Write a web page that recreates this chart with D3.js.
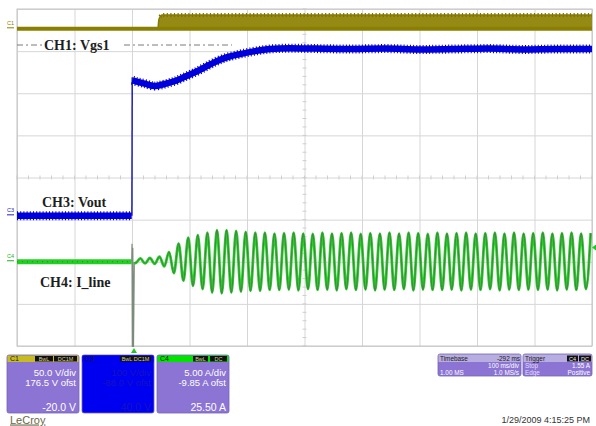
<!DOCTYPE html>
<html>
<head>
<meta charset="utf-8">
<script src="https://cdn.jsdelivr.net/npm/d3@7"></script>
<style>
  body { margin: 0; background: #fff; }
</style>
</head>
<body>
<script>
/*** Scope settings ***/
var c1VperDiv = 50, c1Offset = 176.5;     // C1: 50.0 V/div, 176.5 V ofst
var c4AperDiv = 5,  c4Offset = -9.85;     // C4: 5.00 A/div, -9.85 A ofst
var c4TrigLevel = 1.55;                   // Trigger: Stop 1.55 A
var timeTicks = [0, 100, 200, 300, 400, 500, 600, 700, 800, 900, 1000];  // ms, 100 ms/div
var divTicks = [-4, -3, -2, -1, 0, 1, 2, 3, 4];

/*** C1 Vgs1 (V): low, then PWM band after soft start ***/
var c1Time = [0, 245, 246.5, 249, 252, 1000];
var c1Low  = [0, 0, 0, 0, 0, 0];
var c1High = [0, 0, 10, 14.5, 16.4, 16.4];

/*** C3 Vout (divisions) ***/
var c3PreTime  = [0, 199.5];
var c3PreDiv   = [-0.91, -0.91];
var c3PostTime = [201, 205, 222, 240, 257, 275, 292, 310, 327, 344, 362, 388, 414, 440, 475,
                  520, 580, 640, 700, 760, 820, 880, 940, 1000];
var c3PostDiv  = [2.31, 2.29, 2.23, 2.17, 2.22, 2.29, 2.39, 2.50, 2.62, 2.74, 2.84, 2.93, 3.00, 3.05, 3.07,
                  3.06, 3.05, 3.06, 3.04, 3.05, 3.06, 3.04, 3.05, 3.05];

/*** C4 I_line (A) ***/
var c4PreTime = [0, 199.5];
var c4PreAmp  = [-0.15, -0.15];
var c4SpikeTime = [199.5, 200, 200.6, 201.4, 202.5, 204];
var c4SpikeAmp  = [-0.15, 2.0, -12, 1.5, -11, -0.2];
// line current extremes, one every half cycle of 60 Hz
var c4FirstExt = 206.1, c4HalfPeriod = 8.333;
var c4Extremes = [
  -0.3, 0.25, -0.35, 0.3, -0.4, 0.45, -0.7, 1.0, -1.5, 2.0,
  -2.4, 2.7, -3.0, 3.0, -3.4, 3.3, -3.8, 3.6, -3.9, 3.6,
  -3.8, 3.5, -3.7, 3.4, -3.6, 3.3, -3.6, 3.3, -3.5, 3.2,
  -3.5, 3.25, -3.45, 3.3, -3.55, 3.2, -3.4, 3.15, -3.5, 3.3,
  -3.45, 3.2, -3.55, 3.25, -3.4, 3.3, -3.5, 3.15, -3.45, 3.25,
  -3.55, 3.2, -3.45, 3.3, -3.5, 3.2, -3.4, 3.3, -3.55, 3.25,
  -3.45, 3.15, -3.5, 3.3, -3.5, 3.2, -3.45, 3.25, -3.55, 3.3,
  -3.45, 3.2, -3.5, 3.25, -3.4, 3.3, -3.55, 3.2, -3.45, 3.3,
  -3.5, 3.2, -3.45, 3.25, -3.5, 3.3, -3.45, 3.2, -3.55, 3.25,
  -3.45, 3.3, -3.5, 3.2, -3.4, 3.25
];

/*** Text on the screen ***/
var traceLabels = ["CH1: Vgs1", "CH3: Vout", "CH4: I_line"];
var c1Box = { title: "C1", badges: ["BwL", "DC1M"], lines: ["50.0 V/div", "176.5 V ofst"], bottom: "-20.0 V" };
var c3Box = { title: "C3", badges: ["BwL DC1M"], lines: ["100 V/div", "-88.0 V ofst"], bottom: "40.0 V" };
var c4Box = { title: "C4", badges: ["BwL", "DC"], lines: ["5.00 A/div", "-9.85 A ofst"], bottom: "25.50 A" };
var timebaseText = ["Timebase", "-292 ms", "100 ms/div", "1.00 MS", "1.0 MS/s"];
var triggerText  = ["Trigger", "C4", "DC", "Stop", "1.55 A", "Edge", "Positive"];
var dateText = "1/29/2009 4:15:25 PM";

/*** Layout ***/
var W = 596, H = 426;
var plot = { left: 17, right: 592, top: 9, bottom: 346 };
var serif = "'Liberation Serif', 'Times New Roman', serif";
var sans = "'Liberation Sans', Arial, sans-serif";

var svg = d3.select("body").append("svg")
            .attr("width", W)
            .attr("height", H)
            .style("font-family", sans);

/*** Scales ***/
var x = d3.scaleLinear().domain([0, 1000]).range([plot.left, plot.right]);
var yDiv = d3.scaleLinear().domain([-4, 4]).range([plot.bottom, plot.top]);
var yC1 = function(v) { return yDiv((v + c1Offset) / c1VperDiv); };
var yC4 = function(a) { return yDiv((a + c4Offset) / c4AperDiv); };

/*** Grid ***/
var gridG = svg.append("g");
gridG.append("g")
     .attr("transform", "translate(0," + plot.bottom + ")")
     .call(d3.axisBottom(x).tickValues(timeTicks).tickSize(-(plot.bottom - plot.top)).tickFormat(""));
gridG.append("g")
     .attr("transform", "translate(" + plot.left + ",0)")
     .call(d3.axisLeft(yDiv).tickValues(divTicks).tickSize(-(plot.right - plot.left)).tickFormat(""));
gridG.selectAll(".domain").style("display", "none");
gridG.selectAll(".tick line").attr("stroke", "#d6d6d6").attr("stroke-width", 1);

// minor ticks on the centre cross
gridG.selectAll(".mx").data(d3.range(0, 1001, 20)).enter().append("line")
     .attr("x1", function(d) { return x(d); }).attr("x2", function(d) { return x(d); })
     .attr("y1", yDiv(0) - 2).attr("y2", yDiv(0) + 2)
     .attr("stroke", "#cfcfcf");
gridG.selectAll(".my").data(d3.range(-4, 4.01, 0.2)).enter().append("line")
     .attr("y1", function(d) { return yDiv(d); }).attr("y2", function(d) { return yDiv(d); })
     .attr("x1", x(500) - 2).attr("x2", x(500) + 2)
     .attr("stroke", "#cfcfcf");
gridG.append("rect")
     .attr("x", plot.left).attr("y", plot.top)
     .attr("width", plot.right - plot.left).attr("height", plot.bottom - plot.top)
     .attr("fill", "none").attr("stroke", "#c4c4c4");

/*** Clip ***/
svg.append("clipPath").attr("id", "clip")
   .append("rect")
   .attr("x", plot.left).attr("y", plot.top)
   .attr("width", plot.right - plot.left).attr("height", plot.bottom - plot.top + 1);
var traces = svg.append("g").attr("clip-path", "url(#clip)");

/*** CH1 annotation line ***/
traces.append("line")
      .attr("x1", plot.left).attr("x2", 42).attr("y1", 45).attr("y2", 45)
      .attr("stroke", "#7a7a7a").attr("stroke-dasharray", "6,3,2,3");
traces.append("line")
      .attr("x1", 124).attr("x2", 232).attr("y1", 45).attr("y2", 45)
      .attr("stroke", "#7a7a7a").attr("stroke-dasharray", "6,3,2,3");

/*** C1 trace ***/
var c1Data = c1Time.map(function(t, i) { return { t: t, lo: c1Low[i], hi: c1High[i] }; });
var c1Area = d3.area()
               .curve(d3.curveMonotoneX)
               .x(function(d) { return x(d.t); })
               .y0(function(d) { return yC1(d.lo); })
               .y1(function(d) { return yC1(d.hi); });
var c1Top = d3.line().curve(d3.curveMonotoneX)
              .x(function(d) { return x(d.t); })
              .y(function(d) { return yC1(d.hi); });
var c1Bot = d3.line()
              .x(function(d) { return x(d.t); })
              .y(function(d) { return yC1(d.lo); });
traces.append("path").datum(c1Data)
      .attr("d", c1Area).attr("fill", "#958b14");
traces.append("path").datum(c1Data.filter(function(d) { return d.t >= 249; }))
      .attr("d", c1Top).attr("fill", "none")
      .attr("stroke", "#7b7200").attr("stroke-width", 4).attr("stroke-dasharray", "1.2,2.4");
traces.append("path").datum(c1Data)
      .attr("d", c1Top).attr("fill", "none").attr("stroke", "#857b00").attr("stroke-width", 1.5);
traces.append("path").datum(c1Data)
      .attr("d", c1Bot).attr("fill", "none").attr("stroke", "#8a7f00").attr("stroke-width", 4);

/*** C3 trace ***/
var lineDiv = d3.line().curve(d3.curveMonotoneX)
                .x(function(d) { return x(d[0]); })
                .y(function(d) { return yDiv(d[1]); });
var c3Pre  = c3PreTime.map(function(t, i) { return [t, c3PreDiv[i]]; });
var c3Post = c3PostTime.map(function(t, i) { return [t, c3PostDiv[i]]; });
traces.append("line")
      .attr("x1", x(199.8)).attr("x2", x(200.4))
      .attr("y1", yDiv(c3PreDiv[1])).attr("y2", yDiv(c3PostDiv[0]) - 3)
      .attr("stroke", "#2020b0").attr("stroke-width", 1.5);
[c3Pre, c3Post].forEach(function(seg) {
  traces.append("path").datum(seg).attr("d", lineDiv).attr("fill", "none")
        .attr("stroke", "#00009a").attr("stroke-width", 9).attr("stroke-dasharray", "1,2.2");
  traces.append("path").datum(seg).attr("d", lineDiv).attr("fill", "none")
        .attr("stroke", "#0000dc").attr("stroke-width", 6.5);
});

/*** C4 trace ***/
var lineC4 = d3.line()
               .x(function(d) { return x(d[0]); })
               .y(function(d) { return yC4(d[1]); });
var c4Pre = c4PreTime.map(function(t, i) { return [t, c4PreAmp[i]]; });
var c4Spike = c4SpikeTime.map(function(t, i) { return [t, c4SpikeAmp[i]]; });
var c4Wave = [[204, -0.2]].concat(c4Extremes.map(function(v, i) { return [c4FirstExt + i * c4HalfPeriod, v]; }));
traces.append("path").datum(c4Pre).attr("d", lineC4).attr("fill", "none")
      .attr("stroke", "#22cf22").attr("stroke-width", 5);
traces.append("path").datum(c4Pre).attr("d", lineC4).attr("fill", "none")
      .attr("stroke", "#3c7a3c").attr("stroke-width", 1).attr("stroke-dasharray", "1,4");
traces.append("path").datum(c4Spike).attr("d", lineC4).attr("fill", "none")
      .attr("stroke", "#7c8c7c").attr("stroke-width", 1.2);
traces.append("path").datum(c4Wave).attr("d", lineC4.curve(d3.curveMonotoneX)).attr("fill", "none")
      .attr("stroke", "#26d026").attr("stroke-width", 2.8);
traces.append("path").datum(c4Wave).attr("d", lineC4).attr("fill", "none")
      .attr("stroke", "#4d6e4d").attr("stroke-width", 0.8);

/*** Trace labels ***/
var lbl = svg.append("g").style("font-family", serif).style("font-weight", "bold")
             .style("font-size", "14px").attr("fill", "#1e1e1e");
lbl.append("text").attr("x", 44).attr("y", 50).text(traceLabels[0]);
lbl.append("text").attr("x", 42).attr("y", 207).text(traceLabels[1]);
lbl.append("text").attr("x", 40).attr("y", 287).text(traceLabels[2]);

/*** Channel markers on the left edge ***/
var markers = [
  { name: "C1", y: yC1(0), color: "#8a7f00" },
  { name: "C3", y: yDiv(c3PreDiv[0]), color: "#2020c0" },
  { name: "C4", y: yC4(c4PreAmp[0]), color: "#22b022" }
];
markers.forEach(function(m) {
  svg.append("text").attr("x", 7).attr("y", m.y - 4).attr("font-size", 5.5)
     .attr("fill", m.color).text(m.name);
  svg.append("line").attr("x1", 7).attr("x2", 14).attr("y1", m.y - 1).attr("y2", m.y - 1)
     .attr("stroke", m.color).attr("stroke-width", 1);
});

// trigger time marker and trigger level marker
svg.append("path")
   .attr("d", "M" + (x(200) + 2) + "," + 348 + " l-3,5 l6,0 z")
   .attr("fill", "#22c822");
svg.append("path")
   .attr("d", "M" + (plot.right) + "," + yC4(c4TrigLevel) + " l4,-3 l0,6 z")
   .attr("fill", "#22c822");

/*** Channel boxes ***/
var purple = "#8b74d4";
function channelBox(x0, info, headColor, badgeX, bodyColor, textColor) {
  var g = svg.append("g");
  var y0 = 355, w = 72, h = 58;
  g.append("rect").attr("x", x0).attr("y", y0).attr("width", w).attr("height", h)
   .attr("rx", 2).attr("fill", bodyColor).attr("stroke", "#7565b4").attr("stroke-width", 0.8);
  g.append("rect").attr("x", x0 + 0.5).attr("y", y0 + 0.5).attr("width", w - 1).attr("height", 6.5)
   .attr("fill", headColor);
  g.append("text").attr("x", x0 + 3).attr("y", y0 + 6.3).attr("font-size", 7)
   .attr("fill", "#1a1a1a").text(info.title);
  info.badges.forEach(function(b, i) {
    g.append("rect").attr("x", badgeX[i][0]).attr("y", y0 + 1).attr("width", badgeX[i][1] - badgeX[i][0])
     .attr("height", 5.5).attr("fill", "#111");
    g.append("text").attr("x", (badgeX[i][0] + badgeX[i][1]) / 2).attr("y", y0 + 5.8)
     .attr("text-anchor", "middle").attr("font-size", 5.5).attr("fill", "#d8d09a").text(b);
  });
  g.append("text").attr("x", x0 + w - 3).attr("y", 376).attr("text-anchor", "end")
   .attr("font-size", 9.5).attr("fill", textColor).text(info.lines[0]);
  g.append("text").attr("x", x0 + w - 3).attr("y", 386).attr("text-anchor", "end")
   .attr("font-size", 9.5).attr("fill", textColor).text(info.lines[1]);
  g.append("text").attr("x", x0 + w - 3).attr("y", 410.5).attr("text-anchor", "end")
   .attr("font-size", 10.5).attr("fill", textColor).text(info.bottom);
}
channelBox(7, c1Box, "#c6bc22", [[35, 53], [54, 77]], purple, "#ffffff");
channelBox(82, c3Box, "#0000f0", [[120, 151]], "#0000f0", "#1414c4");
channelBox(157, c4Box, "#00e400", [[193, 208], [210, 227]], purple, "#ffffff");

/*** Timebase box ***/
var fs = 6.4;
var tb = svg.append("g");
tb.append("rect").attr("x", 438).attr("y", 354).attr("width", 83).attr("height", 22)
  .attr("rx", 2).attr("fill", purple).attr("stroke", "#7565b4").attr("stroke-width", 0.8);
tb.append("rect").attr("x", 438.5).attr("y", 354.5).attr("width", 82).attr("height", 7.5)
  .attr("fill", "#b7addf");
tb.append("text").attr("x", 440).attr("y", 360.5).attr("font-size", fs).attr("fill", "#222").text(timebaseText[0]);
tb.append("text").attr("x", 520).attr("y", 360.5).attr("font-size", fs).attr("text-anchor", "end")
  .attr("fill", "#222").text(timebaseText[1]);
tb.append("text").attr("x", 519).attr("y", 367.6).attr("font-size", fs).attr("text-anchor", "end")
  .attr("fill", "#fff").text(timebaseText[2]);
tb.append("text").attr("x", 440).attr("y", 374.6).attr("font-size", fs).attr("fill", "#fff").text(timebaseText[3]);
tb.append("text").attr("x", 519).attr("y", 374.6).attr("font-size", fs).attr("text-anchor", "end")
  .attr("fill", "#fff").text(timebaseText[4]);

/*** Trigger box ***/
var tr = svg.append("g");
tr.append("rect").attr("x", 523).attr("y", 354).attr("width", 69).attr("height", 22)
  .attr("rx", 2).attr("fill", purple).attr("stroke", "#7565b4").attr("stroke-width", 0.8);
tr.append("rect").attr("x", 523.5).attr("y", 354.5).attr("width", 68).attr("height", 7.5)
  .attr("fill", "#b7addf");
tr.append("text").attr("x", 525).attr("y", 360.5).attr("font-size", fs).attr("fill", "#222").text(triggerText[0]);
[[567, 578, triggerText[1]], [579, 591, triggerText[2]]].forEach(function(b) {
  tr.append("rect").attr("x", b[0]).attr("y", 355.5).attr("width", b[1] - b[0]).attr("height", 6)
    .attr("fill", "#111");
  tr.append("text").attr("x", (b[0] + b[1]) / 2).attr("y", 360.6).attr("text-anchor", "middle")
    .attr("font-size", 5.5).attr("fill", "#eee").text(b[2]);
});
tr.append("text").attr("x", 525).attr("y", 367.6).attr("font-size", fs).attr("fill", "#e4ddff").text(triggerText[3]);
tr.append("text").attr("x", 590).attr("y", 367.6).attr("font-size", fs).attr("text-anchor", "end")
  .attr("fill", "#fff").text(triggerText[4]);
tr.append("text").attr("x", 525).attr("y", 374.6).attr("font-size", fs).attr("fill", "#e4ddff").text(triggerText[5]);
tr.append("text").attr("x", 590).attr("y", 374.6).attr("font-size", fs).attr("text-anchor", "end")
  .attr("fill", "#fff").text(triggerText[6]);

/*** Footer ***/
svg.append("text").attr("x", 590).attr("y", 423).attr("text-anchor", "end")
   .attr("font-size", 9).attr("fill", "#333").text(dateText);
svg.append("text").attr("x", 10).attr("y", 423.5).attr("font-size", 11)
   .attr("fill", "#6a6848").style("text-decoration", "underline").text("LeCroy");
</script>
</body>
</html>
